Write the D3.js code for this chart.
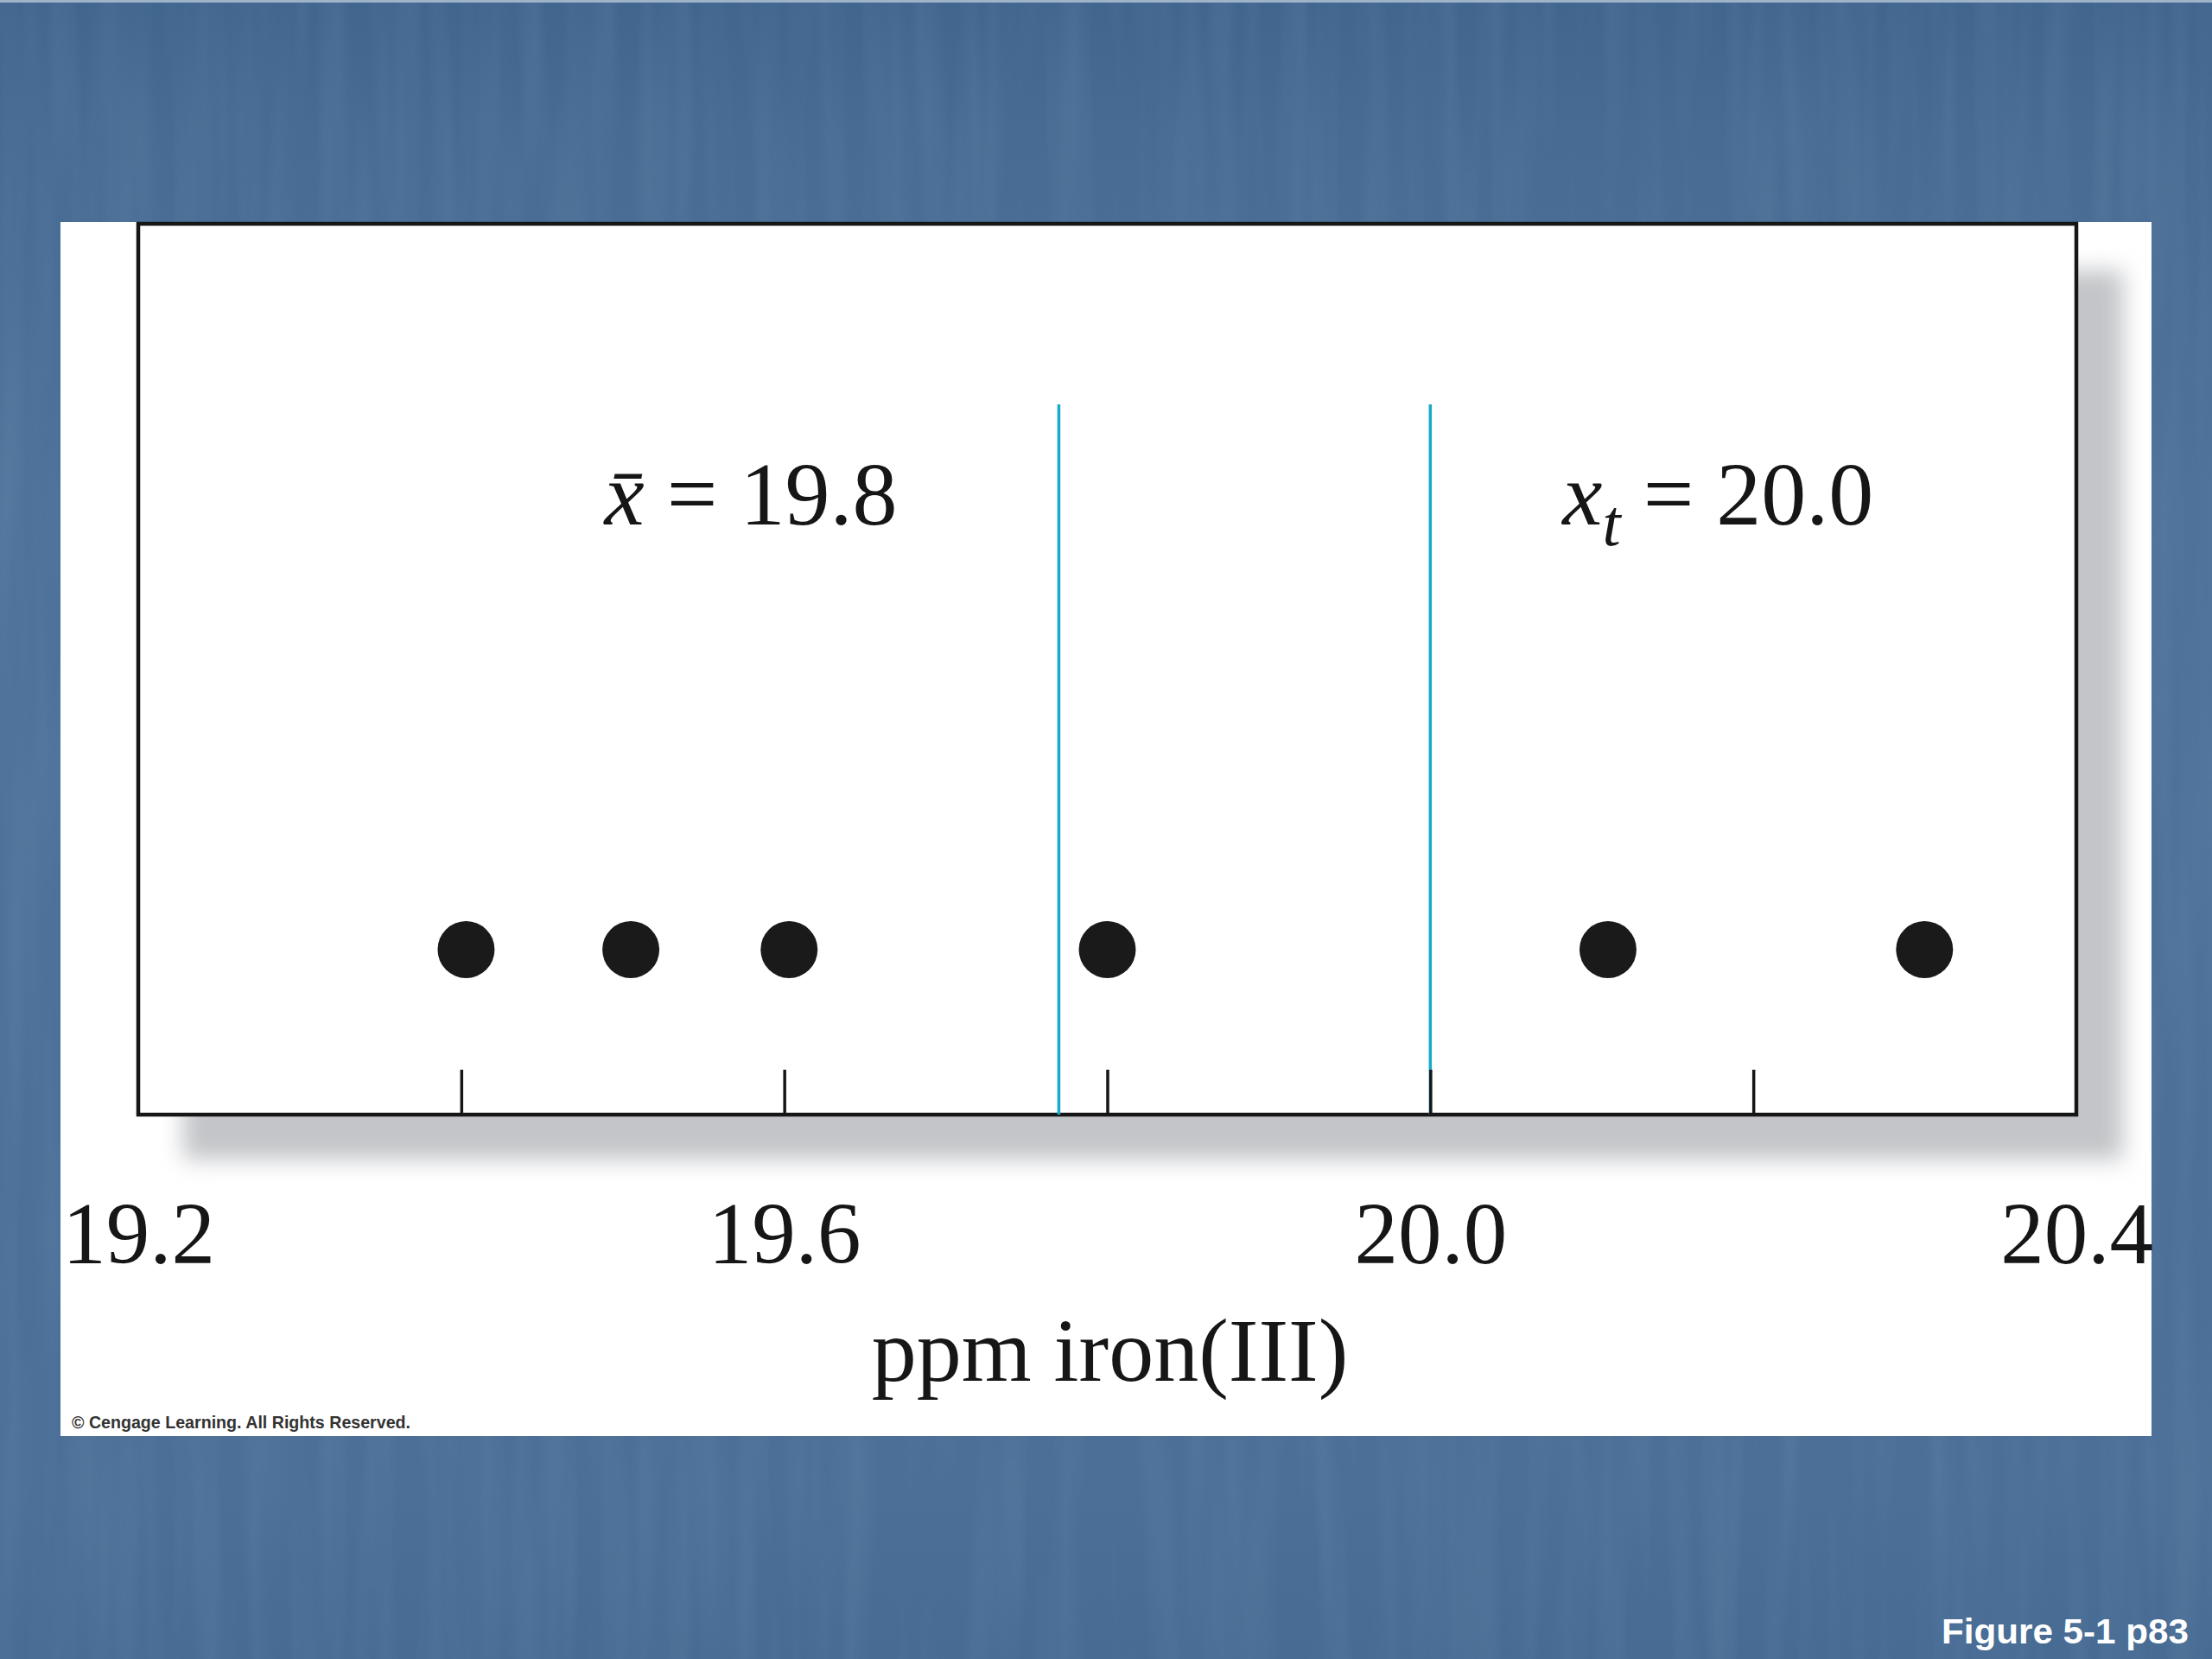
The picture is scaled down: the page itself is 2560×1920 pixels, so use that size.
<!DOCTYPE html>
<html>
<head>
<meta charset="utf-8">
<script src="https://cdn.jsdelivr.net/npm/d3@7"></script>
<style>
  html, body { margin: 0; padding: 0; background: #4a6e96; }
  svg { display: block; }
</style>
</head>
<body>
<script>
// ---------- data ----------
const values = [19.403, 19.505, 19.603, 19.8, 20.11, 20.306];  // measured ppm iron(III)
const refLineValues = [19.77, 20.0];                            // mean line, true-value line
const tickMarkValues = [19.4, 19.6, 19.8, 20.0, 20.2];
const tickLabelValues = [19.2, 19.6, 20.0, 20.4];
const domainRange = [19.2, 20.4];
const meanLabel = "19.8";
const trueLabel = "20.0";
const axisTitle = "ppm iron(III)";
const creditText = "\u00A9 Cengage Learning. All Rights Reserved.";
const captionText = "Figure 5-1 p83";

// ---------- layout ----------
const W = 2560, H = 1920;
const panel = { x: 70, y: 257, w: 2420, h: 1405 };
const box = { x0: 160, x1: 2403, y0: 259, y1: 1290 };
const serif = "'Liberation Serif', 'Times New Roman', serif";
const sans = "'Liberation Sans', Arial, sans-serif";

const svg = d3.select("body").append("svg").attr("width", W).attr("height", H);
const defs = svg.append("defs");

// background gradient + streak texture
const bg = defs.append("linearGradient").attr("id", "bgGrad").attr("x1", 0).attr("y1", 0).attr("x2", 0).attr("y2", 1);
bg.append("stop").attr("offset", "0").attr("stop-color", "#41668e");
bg.append("stop").attr("offset", "0.08").attr("stop-color", "#476b93");
bg.append("stop").attr("offset", "0.3").attr("stop-color", "#4e729a");
bg.append("stop").attr("offset", "0.9").attr("stop-color", "#4b6f97");
bg.append("stop").attr("offset", "1").attr("stop-color", "#476b93");

const tex = defs.append("filter").attr("id", "streaks").attr("x", 0).attr("y", 0).attr("width", 1).attr("height", 1);
tex.append("feTurbulence").attr("type", "fractalNoise").attr("baseFrequency", "0.035 0.0025").attr("numOctaves", 2).attr("seed", 3).attr("result", "n");
tex.append("feColorMatrix").attr("in", "n").attr("type", "matrix")
  .attr("values", "0 0 0 0 0.55  0 0 0 0 0.68  0 0 0 0 0.85  0 0 0 0.55 -0.2");

svg.append("rect").attr("width", W).attr("height", H).attr("fill", "url(#bgGrad)");
svg.append("rect").attr("width", W).attr("height", H).attr("filter", "url(#streaks)").attr("opacity", 0.25);
svg.append("rect").attr("width", W).attr("height", 3).attr("fill", "#9fb3c8");

// white panel
svg.append("rect").attr("x", panel.x).attr("y", panel.y).attr("width", panel.w).attr("height", panel.h).attr("fill", "#ffffff");

// shadow
const sh = defs.append("filter").attr("id", "blur").attr("x", -0.1).attr("y", -0.1).attr("width", 1.2).attr("height", 1.2);
sh.append("feGaussianBlur").attr("stdDeviation", 13);
svg.append("rect")
  .attr("x", box.x0 + 52).attr("y", box.y0 + 54)
  .attr("width", box.x1 - box.x0 + 2).attr("height", box.y1 - box.y0 - 2)
  .attr("fill", "#c3c5c8").attr("filter", "url(#blur)");

// plot box
svg.append("rect")
  .attr("x", box.x0).attr("y", box.y0)
  .attr("width", box.x1 - box.x0).attr("height", box.y1 - box.y0)
  .attr("fill", "#ffffff").attr("stroke", "#161616").attr("stroke-width", 4.5);

// scales
const x = d3.scaleLinear().domain(domainRange).range([box.x0, box.x1]);

// reference lines (cyan)
svg.append("g").selectAll("line").data(refLineValues).join("line")
  .attr("x1", d => x(d)).attr("x2", d => x(d))
  .attr("y1", 468).attr("y2", box.y1)
  .attr("stroke", "#1aa9cb").attr("stroke-width", 3.5);

// tick marks pointing inward
const tickAxis = d3.axisBottom(x).tickValues(tickMarkValues).tickSize(-52).tickFormat("");
const tg = svg.append("g").attr("transform", `translate(0,${box.y1})`).call(tickAxis);
tg.select(".domain").remove();
tg.selectAll(".tick line").attr("stroke", "#161616").attr("stroke-width", 3.5);

// tick labels below
const labelAxis = d3.axisBottom(x).tickValues(tickLabelValues).tickSize(0).tickFormat(d3.format(".1f"));
const lg = svg.append("g").attr("transform", `translate(0,${box.y1})`).call(labelAxis);
lg.select(".domain").remove();
lg.selectAll(".tick text")
  .attr("y", 172).attr("dy", 0)
  .attr("font-family", serif).attr("font-size", 101).attr("fill", "#161616");

// axis title
svg.append("text")
  .attr("x", (box.x0 + box.x1) / 2 + 3).attr("y", 1598)
  .attr("text-anchor", "middle")
  .attr("font-family", serif).attr("font-size", 104).attr("fill", "#161616")
  .text(axisTitle);

// data points
svg.append("g").selectAll("circle").data(values).join("circle")
  .attr("cx", d => x(d)).attr("cy", 1099).attr("r", 33)
  .attr("fill", "#1a1a1a");

// annotations
const a1 = svg.append("text")
  .attr("x", x(refLineValues[0]) - 187).attr("y", 607)
  .attr("text-anchor", "end")
  .attr("font-family", serif).attr("font-size", 104).attr("fill", "#161616");
a1.append("tspan").attr("font-style", "italic").text("x\u0304");
a1.append("tspan").text(" = " + meanLabel);

const a2 = svg.append("text")
  .attr("x", x(refLineValues[1]) + 153).attr("y", 607)
  .attr("font-family", serif).attr("font-size", 104).attr("fill", "#161616");
a2.append("tspan").attr("font-style", "italic").text("x");
a2.append("tspan").attr("font-style", "italic").attr("font-size", 76).attr("dy", 24).text("t");
a2.append("tspan").attr("dy", -24).text(" = " + trueLabel);

// credit
svg.append("text")
  .attr("x", 83).attr("y", 1653)
  .attr("font-family", sans).attr("font-weight", "bold").attr("font-size", 20).attr("fill", "#333333")
  .attr("textLength", 392).attr("lengthAdjust", "spacingAndGlyphs")
  .text(creditText);

// caption
svg.append("text")
  .attr("x", 2533).attr("y", 1902)
  .attr("text-anchor", "end")
  .attr("font-family", sans).attr("font-weight", "bold").attr("font-size", 40).attr("fill", "#ffffff")
  .attr("textLength", 286).attr("lengthAdjust", "spacingAndGlyphs")
  .text(captionText);
</script>
</body>
</html>
